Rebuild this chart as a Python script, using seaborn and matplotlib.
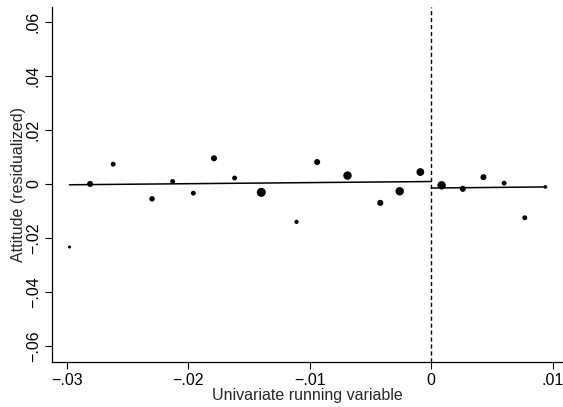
import numpy as np
import pandas as pd
import matplotlib
matplotlib.use("Agg")
import matplotlib.pyplot as plt
import seaborn as sns

# Binned scatter data
bin_x = [-0.0298, -0.0281, -0.0262, -0.0230, -0.0213, -0.0196, -0.0179, -0.0162,
         -0.0140, -0.0111, -0.0094, -0.0069, -0.0042, -0.0026, -0.0009,
         0.00085, 0.0026, 0.0043, 0.0060, 0.0077, 0.0094]
bin_y = [-0.0233, 0.0000, 0.0073, -0.0055, 0.0009, -0.0034, 0.0095, 0.0022,
         -0.0031, -0.0140, 0.0081, 0.0031, -0.0070, -0.0027, 0.0044,
         -0.0005, -0.0018, 0.0025, 0.0003, -0.0125, -0.0011]
bin_n = [6, 25, 16, 20, 16, 16, 25, 16, 56, 12, 25, 49, 25, 49, 42,
         49, 25, 25, 16, 16, 9]

# Fitted lines on each side of the cutoff
left_fit_x = [-0.0298, 0.0]
left_fit_y = [-0.0003, 0.0009]
right_fit_x = [0.0, 0.0094]
right_fit_y = [-0.0015, -0.0011]

cutoff = 0.0

xticks = [-0.03, -0.02, -0.01, 0.0, 0.01]
xtick_labels = ["\u2212.03", "\u2212.02", "\u2212.01", "0", ".01"]
yticks = [-0.06, -0.04, -0.02, 0.0, 0.02, 0.04, 0.06]
ytick_labels = ["\u2212.06", "\u2212.04", "\u2212.02", "0", ".02", ".04", ".06"]

sns.set_style("white")
plt.rcParams["font.family"] = ["Liberation Sans", "DejaVu Sans"]

fig = plt.figure(figsize=(5.63, 4.07), dpi=100)
ax = fig.add_axes([52 / 563, 45 / 407, 511 / 563, 355 / 407])

df = pd.DataFrame({"x": bin_x, "y": bin_y, "n": bin_n})
sns.scatterplot(data=df, x="x", y="y", size="n", sizes=(5, 42),
                size_norm=(min(bin_n), max(bin_n)), color="black",
                edgecolor="none", legend=False, ax=ax, zorder=3)

sns.lineplot(x=left_fit_x, y=left_fit_y, color="black", lw=1.1, ax=ax)
sns.lineplot(x=right_fit_x, y=right_fit_y, color="black", lw=1.1, ax=ax)
ax.axvline(cutoff, color="black", lw=1.0, linestyle=(0, (3, 2)))

ax.set_xlim(-0.03124, 0.01085)
ax.set_ylim(-0.0658, 0.0654)
ax.set_xticks(xticks)
ax.set_xticklabels(xtick_labels)
ax.set_yticks(yticks)
ax.set_yticklabels(ytick_labels, rotation=90, va="center")

ax.tick_params(axis="both", direction="out", length=5, width=0.8,
               labelsize=11.5, color="black", labelcolor="black", pad=3)
ax.tick_params(left=True, bottom=True)
for s in ["top", "right"]:
    ax.spines[s].set_visible(False)
for s in ["left", "bottom"]:
    ax.spines[s].set_color("black")
    ax.spines[s].set_linewidth(0.9)

ax.set_xlabel("Univariate running variable", fontsize=11.5, labelpad=0)
ax.set_ylabel("Attitude (residualized)", fontsize=11.5, labelpad=0)

fig.savefig("out.png", dpi=100)
